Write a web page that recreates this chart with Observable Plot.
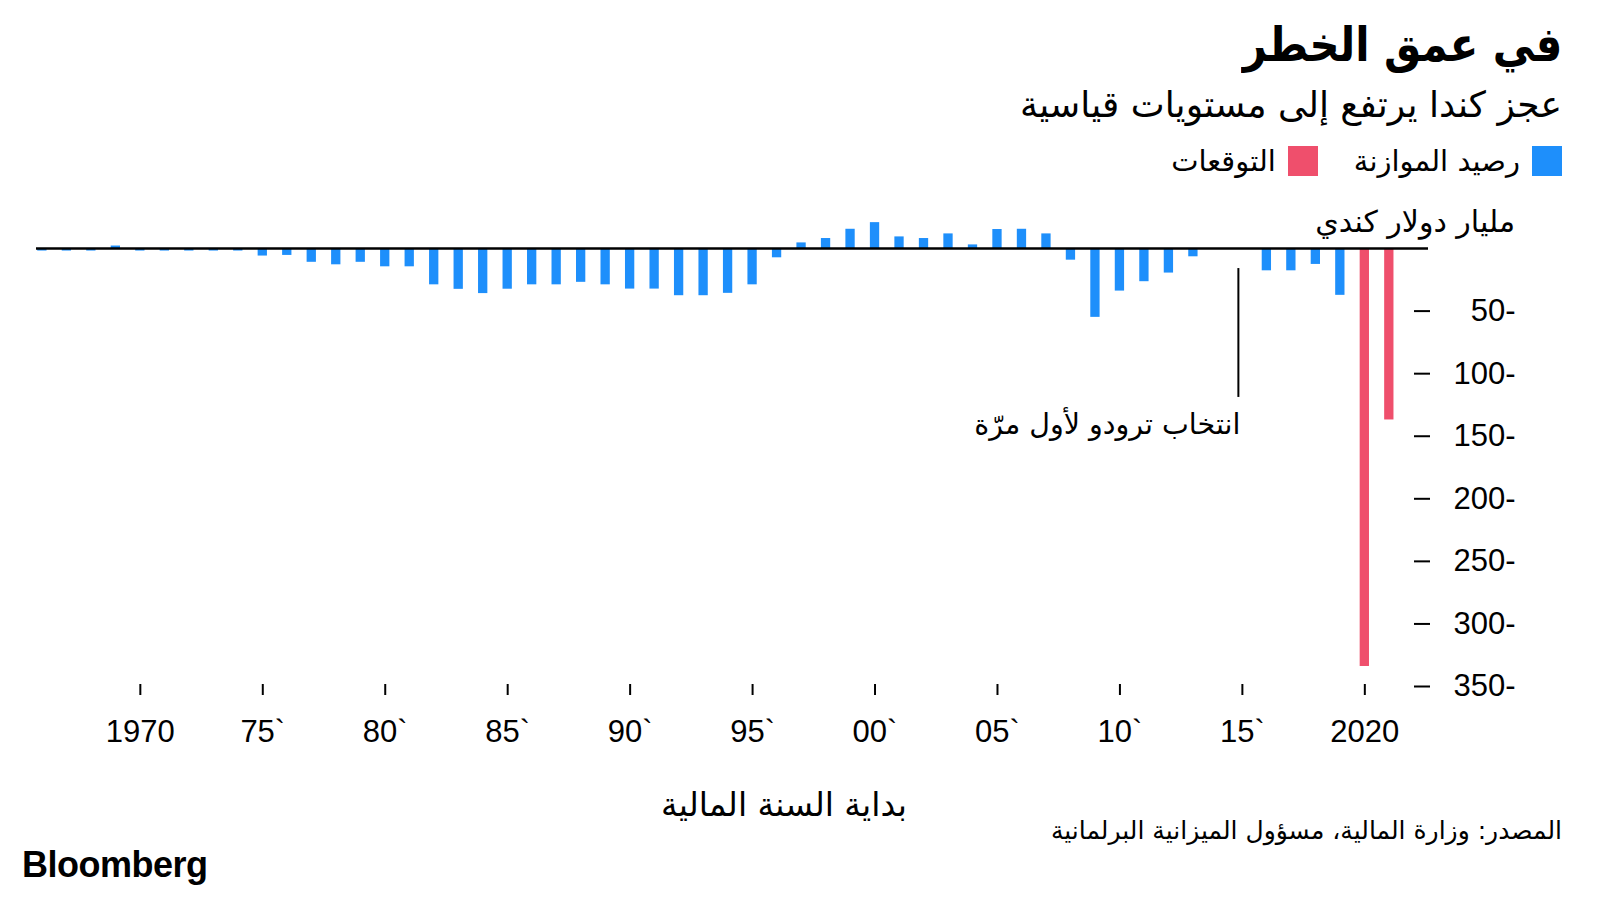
<!DOCTYPE html>
<html>
<head>
<meta charset="utf-8">
<script src="https://cdn.jsdelivr.net/npm/d3@7"></script>
<script src="https://cdn.jsdelivr.net/npm/@observablehq/plot@0.6"></script>
<style>
  html, body { margin: 0; padding: 0; background: #fff; }
  #wrap { position: relative; width: 1600px; height: 900px; background: #fff; overflow: hidden; }
  .ar { position: absolute; direction: rtl; font-family: "DejaVu Sans", sans-serif; line-height: 1; white-space: nowrap; color: #000; }
  #title { right: 38px; top: 20px; font-size: 48px; font-weight: bold; transform: scaleX(0.87); transform-origin: right center; }
  #subtitle { right: 38px; top: 87px; font-size: 36px; }
  #legend { right: 38px; top: 146px; height: 30px; display: flex; flex-direction: row; align-items: center; direction: rtl; font-family: "DejaVu Sans", sans-serif; font-size: 29px; position: absolute; white-space: nowrap; }
  .sw { width: 30px; height: 30px; display: inline-block; margin-left: 12px; }
  .lg { margin-left: 36px; }
  #unit { right: 85px; top: 207px; font-size: 30px; }
  #xlabel { left: 661px; top: 788px; font-size: 33px; }
  #source { right: 38px; top: 818px; font-size: 25px; }
  #brand { position: absolute; left: 22px; top: 847px; font-family: "Liberation Sans", Arial, sans-serif; font-weight: bold; font-size: 36px; letter-spacing: -0.5px; line-height: 1; }
  #chart { position: absolute; left: 0; top: 190px; }
</style>
</head>
<body>
<div id="wrap">
  <div id="title" class="ar">في عمق الخطر</div>
  <div id="subtitle" class="ar">عجز كندا يرتفع إلى مستويات قياسية</div>
  <div id="legend"></div>
  <div id="unit" class="ar">مليار دولار كندي</div>
  <div id="xlabel" class="ar">بداية السنة المالية</div>
  <div id="source" class="ar">المصدر: وزارة المالية، مسؤول الميزانية البرلمانية</div>
  <div id="brand">Bloomberg</div>
  <div id="chart"></div>
</div>
<script>
// ---- data ----
const balanceYears = [1966,1967,1968,1969,1970,1971,1972,1973,1974,1975,1976,1977,1978,1979,1980,1981,1982,1983,1984,1985,1986,1987,1988,1989,1990,1991,1992,1993,1994,1995,1996,1997,1998,1999,2000,2001,2002,2003,2004,2005,2006,2007,2008,2009,2010,2011,2012,2013,2014,2015,2016,2017,2018,2019];
const balanceValues = [-2,-2,-2,2,-2,-2,-2,-2,-2,-6,-5.5,-11,-13,-11,-14.6,-14.6,-29,-32.6,-36,-32.5,-29,-29,-27,-29,-32.4,-32.4,-37.7,-37.7,-35.8,-29,-7.4,4.5,8,15.4,20.7,9.3,8,11.7,2.9,15.2,15.4,11.7,-9.3,-55,-34,-26.5,-19.6,-6.6,0,0,-17.8,-17.8,-12.7,-37.4];
const forecastYears = [2020, 2021];
const forecastValues = [-334, -137];
const seriesNames = ["رصيد الموازنة", "التوقعات"];
const seriesColors = ["#1e8ffb", "#ef4f6c"];
const xTickValues = [1970,1975,1980,1985,1990,1995,2000,2005,2010,2015,2020];
const xTickLabels = ["1970","75`","80`","85`","90`","95`","00`","05`","10`","15`","2020"];
const yTickValues = [-50,-100,-150,-200,-250,-300,-350];
const yTickLabels = ["50-","100-","150-","200-","250-","300-","350-"];
const annotationYear = 2015;
const annotationText = "انتخاب ترودو لأول مرّة";
const annotationLineFrom = -16;
const annotationLineTo = -119;
const annotationTextAt = -141;

// ---- tables ----
const bars = [
  ...balanceYears.map((year, i) => ({year, value: balanceValues[i], series: seriesNames[0]})),
  ...forecastYears.map((year, i) => ({year, value: forecastValues[i], series: seriesNames[1]}))
];

// legend
const legend = document.getElementById("legend");
seriesNames.forEach((name, i) => {
  const sw = document.createElement("span");
  sw.className = "sw";
  sw.style.background = seriesColors[i];
  const t = document.createElement("span");
  t.textContent = name;
  if (i < seriesNames.length - 1) t.className = "lg";
  legend.appendChild(sw);
  legend.appendChild(t);
});

const numFont = "Liberation Sans, Arial, sans-serif";
const halfBar = 0.19;

const chart = Plot.plot({
  width: 1600,
  height: 580,
  marginLeft: 36,
  marginRight: 172,
  marginTop: 20.5,
  marginBottom: 84,
  style: {background: "transparent", fontFamily: numFont},
  x: {domain: [1965.76, 2022.6]},
  y: {domain: [-350, 30]},
  color: {domain: seriesNames, range: seriesColors},
  marks: [
    Plot.rect(bars, {
      x1: d => d.year - halfBar,
      x2: d => d.year + halfBar,
      y1: () => 0,
      y2: "value",
      fill: "series"
    }),
    Plot.ruleY([0], {stroke: "#000", strokeWidth: 2.5}),
    Plot.ruleX([annotationYear], {y1: annotationLineFrom, y2: annotationLineTo, stroke: "#000", strokeWidth: 2, dx: -4}),
    Plot.text([annotationText], {
      x: annotationYear, y: annotationTextAt, text: d => d, textAnchor: "end", dx: -2,
      fontFamily: "DejaVu Sans, sans-serif", fontSize: 28.5, fill: "#000"
    }),
    Plot.axisX({
      ticks: xTickValues,
      tickFormat: d => xTickLabels[xTickValues.indexOf(d)],
      tickSize: 11, tickPadding: 24, dy: -2,
      fontSize: 31, fontFamily: numFont, stroke: "#000", strokeWidth: 2, color: "#000",
      label: null
    }),
    Plot.axisY({
      anchor: "right",
      ticks: yTickValues,
      tickFormat: d => yTickLabels[yTickValues.indexOf(d)],
      tickSize: 16, dx: -15, tickPadding: 86, textAnchor: "end",
      fontSize: 31, fontFamily: numFont, strokeWidth: 2, color: "#000",
      label: null
    })
  ]
});
document.getElementById("chart").appendChild(chart);
</script>
</body>
</html>
